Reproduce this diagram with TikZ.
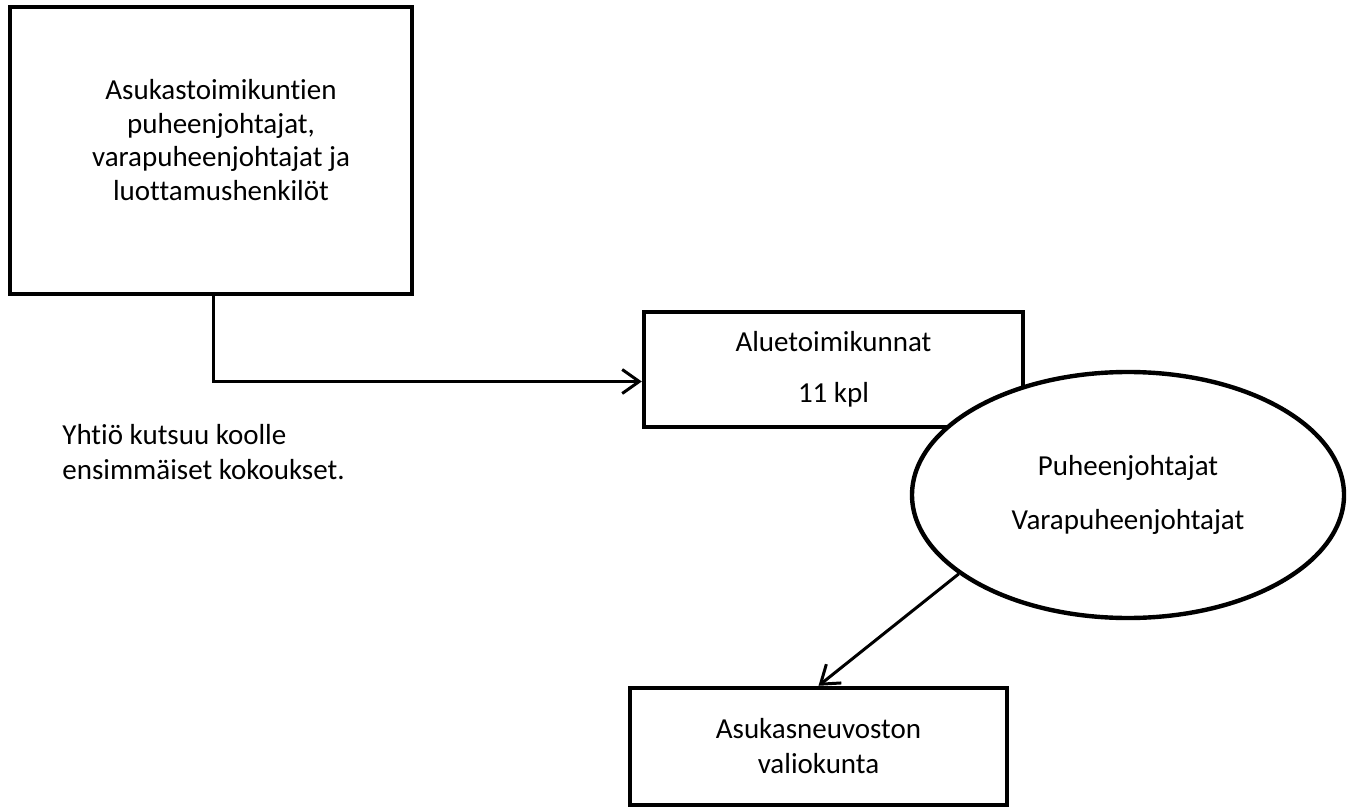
\documentclass[tikz,border=0pt]{standalone}
\usepackage{fontspec}
\setmainfont{Carlito}[Ligatures=NoCommon]
\usepackage{tikz}
\usetikzlibrary{arrows.meta,shapes.geometric}

\begin{document}
\begin{tikzpicture}[x=0.5pt,y=-0.5pt,
        font=\fontsize{14.5}{17.5}\selectfont,
        box/.style={draw, line width=2.2pt, rectangle, fill=white, align=center, inner sep=0pt},
        oval/.style={draw, line width=2.2pt, ellipse, fill=white, align=center, inner sep=0pt},
        txt/.style={align=center, inner sep=0pt},
        conn/.style={line width=1.5pt, arrows={-Straight Barb[length=8.5pt,width=12pt]}}]
            \useasboundingbox (0,0) rectangle (1353,807);

            \node[box, minimum width=201pt, minimum height=143.5pt] (asukas) at (211,150.5) {};
            \node[txt] (asukasText) at (221,140) {Asukastoimikuntien\\[-0.8pt]puheenjohtajat,\\[-0.8pt]varapuheenjohtajat ja\\[-0.8pt]luottamushenkilöt};

            \node[box, minimum width=189.5pt, minimum height=57.5pt] (alue) at (833.5,369.5) {Aluetoimikunnat\\[8pt]11 kpl};
            \node[oval, minimum width=216pt, minimum height=123pt] (puheen) at (1128,495) {Puheenjohtajat\\[9.5pt]Varapuheenjohtajat};
            \node[box, minimum width=188.5pt, minimum height=58.5pt] (valiokunta) at (818.5,746.5) {Asukasneuvoston\\valiokunta};

            \node[txt, align=left, anchor=west] (yhtio) at (62,452.5) {Yhtiö kutsuu koolle\\ensimmäiset kokoukset.};

            \draw[conn] ([xshift=1pt]asukas.south) |- ([yshift=-6pt]alue.west);
            \draw[conn] (puheen.205) -- (valiokunta.north);
        \end{tikzpicture}
\end{document}
